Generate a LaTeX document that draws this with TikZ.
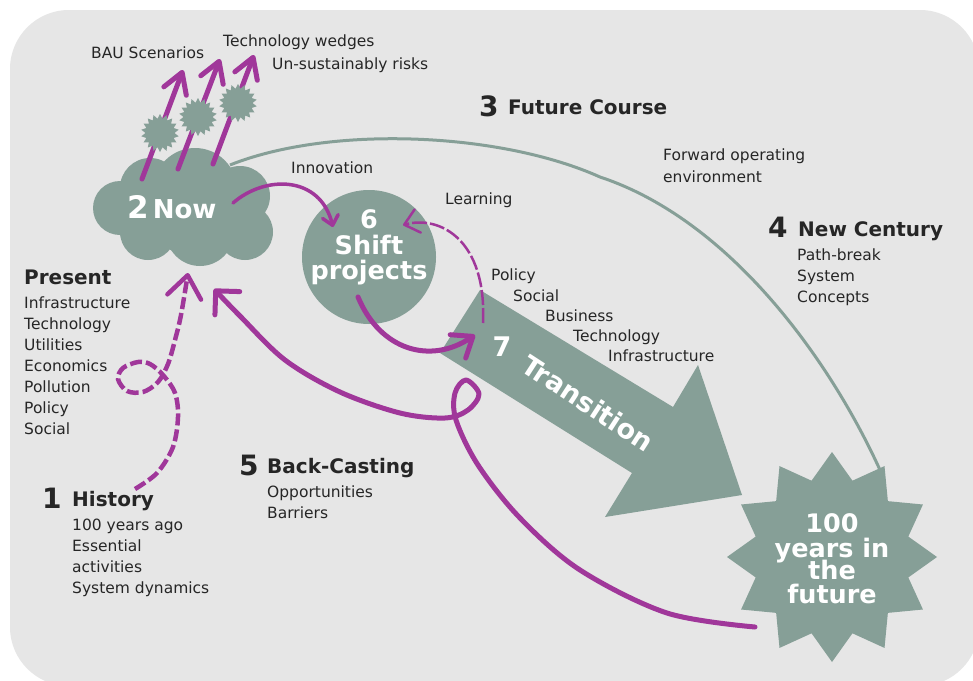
\documentclass[tikz,border=0pt]{standalone}
\usepackage{fontspec}
\setmainfont{DejaVu Sans}
\usetikzlibrary{arrows.meta,calc}
\definecolor{sage}{HTML}{869F97}
\definecolor{purp}{HTML}{A0379A}
\definecolor{bgray}{HTML}{E6E6E6}
\definecolor{ink}{HTML}{262626}
\newcommand\smallburst[2]{%
  \fill[sage] plot[samples at={0,...,36}, variable=\k]
    ({#1+(19-4.5*mod(\k,2))*cos(90+10*\k)}, {#2-(19-4.5*mod(\k,2))*sin(90+10*\k)}) -- cycle;}
\begin{document}
\begin{tikzpicture}[x=1pt,y=-1pt,
  body/.style={font=\fontsize{15.5}{21}\selectfont, text=ink, inner sep=0, anchor=base west},
  head/.style={font=\bfseries\fontsize{20}{24}\selectfont, text=ink, inner sep=0, anchor=base west},
  bignum/.style={font=\bfseries\fontsize{28}{30}\selectfont, text=ink, inner sep=0, anchor=base west},
  wline/.style={font=\bfseries\fontsize{25.5}{25.5}\selectfont, text=white, inner sep=0, anchor=base},
  thickp/.style={draw=purp, line width=5pt, line cap=round, line join=round},
  midp/.style={draw=purp, line width=3.5pt, line cap=round, line join=round},
  dashp/.style={draw=purp, line width=4.5pt, dash pattern=on 12pt off 4pt},
  thinp/.style={draw=purp, line width=2.5pt, dash pattern=on 15pt off 3pt},
  arc/.style={draw=sage, line width=3pt}
]
\useasboundingbox (0,0) rectangle (973,680);
\fill[white] (0,0) rectangle (973,680);
\fill[bgray, rounded corners=59pt] (10,10) rectangle (979,686);

% coordinates
\coordinate (arcA) at (230,165);
\coordinate (arcM) at (600,177);
\coordinate (arcB) at (880,470);
\coordinate (u1s) at (142,179); \coordinate (u1e) at (183,70);
\coordinate (u2s) at (178,169); \coordinate (u2e) at (220,59);
\coordinate (u3s) at (213,164); \coordinate (u3e) at (254,55);
\coordinate (innS) at (233,203); \coordinate (innE) at (333,227);
\coordinate (shS) at (358,297); \coordinate (trE) at (475,335);
\coordinate (lrS) at (483,323); \coordinate (lrE) at (403,225);
\coordinate (bcS) at (755,627); \coordinate (bcE) at (214,289);
\coordinate (hiS) at (135,489); \coordinate (hiE) at (188,273);

% future course arc
\draw[arc] (arcA) .. controls (330,125) and (500,132) .. (arcM)
  .. controls (730,220) and (830,360) .. (arcB);

% transition arrow
\fill[sage] (480,290) -- (673,407) -- (698,365) -- (742,495) -- (605,517) -- (632,473) -- (440,353) -- cycle;
\node[font=\bfseries\fontsize{27}{27}\selectfont, text=white, inner sep=0] (seven) at (502,347) {7};
\node[font=\bfseries\fontsize{27}{27}\selectfont, text=white, inner sep=0, rotate=-33] (trans) at (588,403) {Transition};

% cloud
\node[inner sep=0] (cloud) at (183,207) {};
\fill[sage] (120,208) circle[radius=27];
\fill[sage] (150,188) circle[radius=30];
\fill[sage] (195,190) circle[radius=42];
\fill[sage] (240,196) circle[radius=30];
\fill[sage] (245,232) circle[radius=28];
\fill[sage] (200,232) circle[radius=34];
\fill[sage] (148,232) circle[radius=28];
\fill[sage] (190,215) circle[radius=40];
\node[font=\bfseries\fontsize{26}{26}\selectfont, text=white, inner sep=0, anchor=base west] (now) at (127,218)
  {{\fontsize{31}{31}\selectfont 2}\hspace{4pt}Now};

% shift projects circle
\node[circle, fill=sage, minimum size=134pt, inner sep=0] (shift) at (369,257) {};
\foreach \t/\y [count=\i] in {6/228, Shift/254, projects/279}
  \node[wline] (sh\i) at (369,\y) {\t};

% big starburst
\fill[sage] plot[samples at={0,...,24}, variable=\k]
  ({832+(105-26*mod(\k,2))*cos(90+15*\k)}, {557-(105-26*mod(\k,2))*sin(90+15*\k)}) -- cycle;
\node[inner sep=0] (future) at (832,557) {};
\foreach \t/\y [count=\i] in {100/532, years in/557, the/579, future/603}
  \node[wline] (fu\i) at (832,\y) {\t};

% upward arrows and small bursts
\draw[thickp, -{Straight Barb[length=20pt,width=24pt,round]}] (u1s) -- (u1e);
\draw[thickp, -{Straight Barb[length=20pt,width=24pt,round]}] (u2s) -- (u2e);
\draw[thickp, -{Straight Barb[length=20pt,width=24pt,round]}] (u3s) -- (u3e);
\smallburst{160}{133}
\smallburst{198}{117}
\smallburst{238}{103}

% innovation arrow
\draw[midp, -{Straight Barb[length=9pt,width=16pt,round]}] (innS) .. controls (265,175) and (320,175) .. (innE);
% shift -> transition
\draw[thickp, -{Straight Barb[length=18pt,width=28pt,round]}] (shS) .. controls (380,350) and (430,365) .. (trE);
% learning
\draw[thinp, -{Straight Barb[length=14pt,width=24pt,round]}] (lrS) .. controls (487,240) and (440,215) .. (lrE);
% back-casting
\draw[thickp, -{Straight Barb[length=17pt,width=34pt,round]}] plot[smooth, tension=0.55] coordinates {
  (bcS) (667,613) (580,570) (520,518) (478,465) (456,420) (455,393) (466,380) (479,394) (468,410) (445,418)
  (400,413) (340,392) (285,360) (240,316) (bcE)};
% history
\draw[dashp, -{Straight Barb[length=22pt,width=34pt,round]}] plot[smooth, tension=0.55] coordinates {
  (hiS) (157,473) (173,447) (178,417) (175,393) (163,375) (150,364) (138,362) (123,368) (118,379) (127,391)
  (143,392) (158,382) (168,364) (175,340) (181,315) (hiE)};

% texts
\node[body] (bau) at (91,58) {BAU Scenarios};
\node[body] (techw) at (223,46) {Technology wedges};
\node[body] (unsus) at (272,69) {Un-sustainably risks};
\node[bignum] (n3) at (479,116) {3};
\node[head] (fc) at (508,114) {Future Course};
\node[body] (innov) at (291,173) {Innovation};
\node[body] (fwd1) at (663,160) {Forward operating};
\node[body] (fwd2) at (663,182) {environment};
\node[body] (learn) at (445,204) {Learning};
\node[bignum] (n4) at (768,237) {4};
\node[head] (nc) at (798,236) {New Century};
\foreach \t/\y [count=\i] in {Path-break/260, System/281, Concepts/302}
  \node[body] (nc\i) at (797,\y) {\t};
\node[head] (pres) at (24,284) {Present};
\foreach \t [count=\i] in {Infrastructure,Technology,Utilities,Economics,Pollution,Policy,Social}
  \node[body] (pr\i) at (24,287+21*\i) {\t};
\foreach \t/\x/\y [count=\i] in {Policy/491/280, Social/513/301, Business/545/321, Technology/573/341, Infrastructure/608/361}
  \node[body] (tr\i) at (\x,\y) {\t};
\node[bignum] (n5) at (239,475) {5};
\node[head] (bc) at (267,473) {Back-Casting};
\node[body] (bc1) at (267,497) {Opportunities};
\node[body] (bc2) at (267,518) {Barriers};
\node[bignum] (n1) at (42,508) {1};
\node[head] (hist) at (72,506) {History};
\foreach \t [count=\i] in {100 years ago,Essential,activities,System dynamics}
  \node[body] (hi\i) at (72,509+21*\i) {\t};
\end{tikzpicture}
\end{document}
